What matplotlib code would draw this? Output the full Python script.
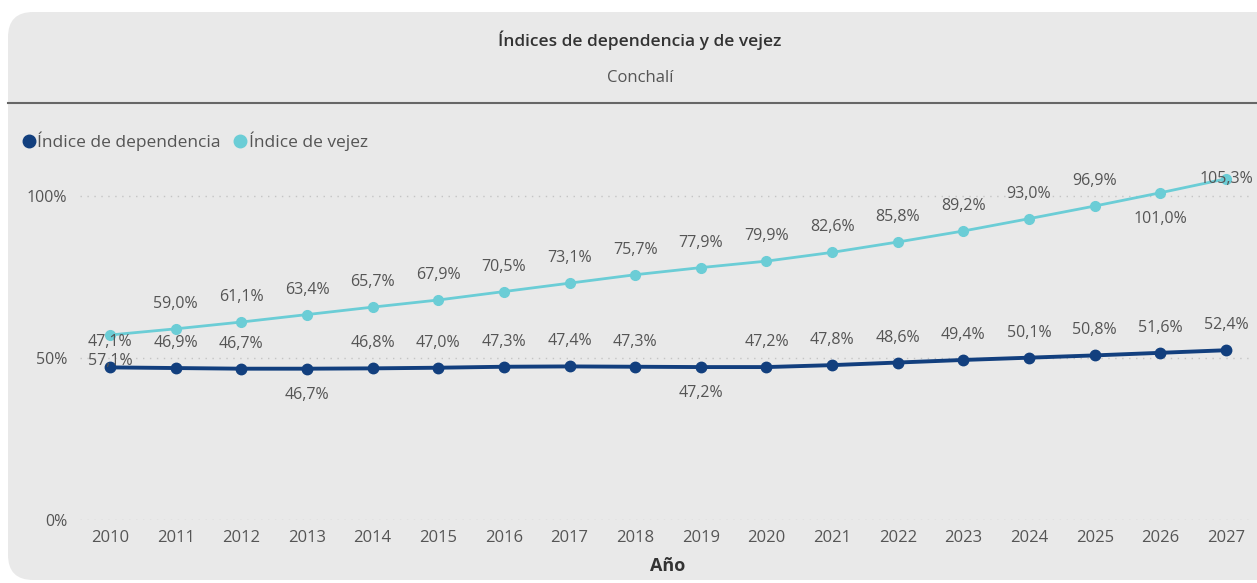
import matplotlib
matplotlib.use("Agg")
import matplotlib.pyplot as plt
from matplotlib.patches import FancyBboxPatch
from matplotlib.lines import Line2D

plt.rcParams['font.family'] = ['Open Sans', 'DejaVu Sans']

years = list(range(2010, 2028))
dependencia = [47.1, 46.9, 46.7, 46.7, 46.8, 47.0, 47.3, 47.4, 47.3, 47.2,
               47.2, 47.8, 48.6, 49.4, 50.1, 50.8, 51.6, 52.4]
vejez = [57.1, 59.0, 61.1, 63.4, 65.7, 67.9, 70.5, 73.1, 75.7, 77.9,
         79.9, 82.6, 85.8, 89.2, 93.0, 96.9, 101.0, 105.3]
yticks = [0, 50, 100]
ytick_labels = ["0%", "50%", "100%"]

# label placement (style)
dep_place = ['a'] * 18
dep_place[3] = 'b'
dep_place[9] = 'b'
vej_place = ['a'] * 18
vej_place[0] = 'b'
vej_place[16] = 'b'
vej_place[17] = 'c'

DARK = '#123f7e'
LIGHT = '#6bcdd6'
TXT = '#555555'

W, H = 1257, 583
fig = plt.figure(figsize=(W / 100, H / 100), dpi=100)
fig.patch.set_facecolor('white')

panel = FancyBboxPatch((8 / W, 3 / H), (W + 30) / W, (568) / H,
                       boxstyle="round,pad=0,rounding_size=0.02",
                       transform=fig.transFigure, facecolor='#e9e9e9',
                       edgecolor='none', mutation_aspect=W / H, zorder=-10)
fig.patches.append(panel)

fig.add_artist(Line2D([8 / W, 1], [1 - 103 / H, 1 - 103 / H], color='#666666',
                      lw=1.5, transform=fig.transFigure))

fig.text(640 / W, 1 - 40 / H, "Índices de dependencia y de vejez", ha='center',
         va='center', fontsize=12.5, fontweight='semibold', color='#333333')
fig.text(640 / W, 1 - 78 / H, "Conchalí", ha='center', va='center',
         fontsize=12, color='#555555')
fig.text(668 / W, 1 - 566 / H, "Año", ha='center', va='center',
         fontsize=13, fontweight='bold', color='#333333')

left, right, top, bottom = 80, 1250, 170, 520
ax = fig.add_axes([left / W, 1 - bottom / H, (right - left) / W, (bottom - top) / H])
ax.set_facecolor('none')
px_per_year = (1226 - 110) / 17
ax.set_xlim(2010 - (110 - left) / px_per_year, 2027 + (right - 1226) / px_per_year)
px_per_pct = (520 - 196) / 100
ax.set_ylim(0, (bottom - top) / px_per_pct)

for s in ax.spines.values():
    s.set_visible(False)
ax.set_yticks(yticks)
ax.set_yticklabels(ytick_labels)
ax.set_xticks(years)
ax.set_xticklabels([str(y) for y in years])
ax.tick_params(axis='both', length=0, labelsize=11.5, colors='#555555')
ax.tick_params(axis='x', labelsize=12)
ax.tick_params(axis='y', pad=9)
ax.tick_params(axis='x', pad=7)
ax.grid(axis='y', linestyle=(0, (1, 4)), color='#c4c4c4', lw=1)
ax.set_axisbelow(True)

ax.plot(years, vejez, color=LIGHT, lw=2, marker='o', markersize=7, clip_on=False, zorder=3)
ax.plot(years, dependencia, color=DARK, lw=2.8, marker='o', markersize=7.5, clip_on=False, zorder=4)

def fmt(v):
    return f"{v:.1f}%".replace('.', ',')

def label(x, v, place):
    off = {'a': 18, 'b': -19, 'c': 0}[place]
    ax.annotate(fmt(v), (x, v), xytext=(0, off), textcoords='offset points',
                ha='center', va='center', fontsize=11.5, color=TXT, zorder=6,
                annotation_clip=False)

for x, v, p in zip(years, dependencia, dep_place):
    label(x, v, p)
for x, v, p in zip(years, vejez, vej_place):
    label(x, v, p)

handles = [Line2D([], [], marker='o', linestyle='none', color=DARK, markersize=9),
           Line2D([], [], marker='o', linestyle='none', color=LIGHT, markersize=9)]
leg = fig.legend(handles, ["Índice de dependencia", "Índice de vejez"], ncol=2,
                 loc='center left', bbox_to_anchor=(20 / W, 1 - 141 / H),
                 frameon=False, handletextpad=0.0, columnspacing=0.6,
                 fontsize=12.5, handlelength=1.0, borderaxespad=0, borderpad=0)
for t in leg.get_texts():
    t.set_color(TXT)

fig.savefig("out.png", dpi=100)
